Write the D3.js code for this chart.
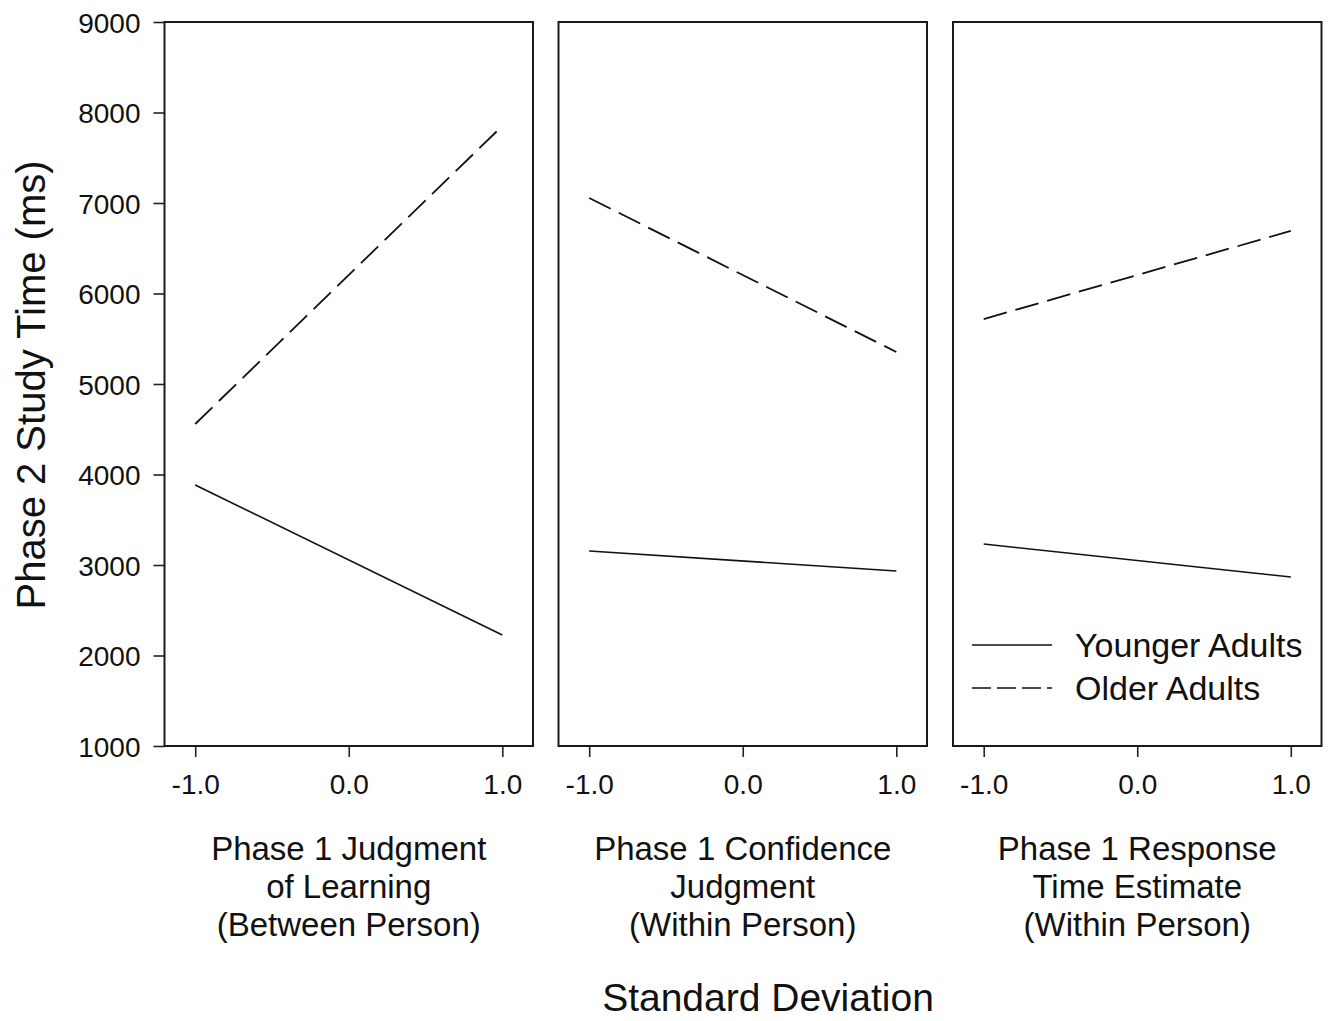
<!DOCTYPE html>
<html>
<head>
<meta charset="utf-8">
<script src="https://cdn.jsdelivr.net/npm/d3@7"></script>
<style>
  body { margin: 0; background: #fff; }
  text { font-family: "Liberation Sans", Arial, sans-serif; fill: #111; }
</style>
</head>
<body>
<div class="graph"></div>
<script>
// data
var xValues = [-1, 1];
var xTicks = [-1, 0, 1];
var yTicks = [1000, 2000, 3000, 4000, 5000, 6000, 7000, 8000, 9000];
var panelLabels = [
  ["Phase 1 Judgment", "of Learning", "(Between Person)"],
  ["Phase 1 Confidence", "Judgment", "(Within Person)"],
  ["Phase 1 Response", "Time Estimate", "(Within Person)"]
];
var younger = [[3884, 2227], [3155, 2934], [3232, 2867]];
var older = [[4558, 7851], [7055, 5354], [5718, 6691]];
var seriesNames = ["Younger Adults", "Older Adults"];

var width = 1331, height = 1021;
var plotTop = 22, plotBottom = 746;
var panelLeft = [164.5, 558.5, 953];
var panelW = 368.5;
var dash = "24,9";

var svg = d3.select(".graph").append("svg")
    .attr("width", width)
    .attr("height", height);

var y = d3.scaleLinear()
    .domain([1000, 9000])
    .range([plotBottom, plotTop]);

var line = d3.line();

// y axis on first panel only
var yAxis = d3.axisLeft(y)
    .tickValues(yTicks)
    .tickSize(11)
    .tickPadding(13)
    .tickFormat(d3.format("d"));

var gy = svg.append("g")
    .attr("transform", "translate(" + panelLeft[0] + ",0)")
    .call(yAxis);
gy.select(".domain").remove();
gy.selectAll(".tick line").attr("stroke", "#222").attr("stroke-width", 1.6);
gy.selectAll(".tick text")
    .attr("font-size", 28)
    .attr("dy", "0.36em")
    .style("font-family", "'Liberation Sans', Arial, sans-serif")
    .style("fill", "#111");

// plain hyphen for negatives, like the original
var fmtX = function(d) { return d3.format(".1f")(d).replace("\u2212", "-"); };

panelLabels.forEach(function(lbl, i) {
  var x = d3.scaleLinear()
      .domain([-1.2, 1.2])
      .range([panelLeft[i], panelLeft[i] + panelW]);

  var xAxis = d3.axisBottom(x)
      .tickValues(xTicks)
      .tickSize(11)
      .tickPadding(17)
      .tickFormat(fmtX);

  var gx = svg.append("g")
      .attr("transform", "translate(0," + plotBottom + ")")
      .call(xAxis);
  gx.select(".domain").remove();
  gx.selectAll(".tick line").attr("stroke", "#222").attr("stroke-width", 1.6);
  gx.selectAll(".tick text")
      .attr("font-size", 28)
      .style("font-family", "'Liberation Sans', Arial, sans-serif")
      .style("fill", "#111");

  // frame
  svg.append("rect")
      .attr("x", panelLeft[i])
      .attr("y", plotTop)
      .attr("width", panelW)
      .attr("height", plotBottom - plotTop)
      .attr("fill", "none")
      .attr("stroke", "#1a1a1a")
      .attr("stroke-width", 2);

  var pts = function(vals) {
    return vals.map(function(v, j) { return [x(xValues[j]), y(v)]; });
  };

  svg.append("path")
      .attr("d", line(pts(younger[i])))
      .attr("fill", "none")
      .attr("stroke", "#111")
      .attr("stroke-width", 1.6);

  svg.append("path")
      .attr("d", line(pts(older[i])))
      .attr("fill", "none")
      .attr("stroke", "#111")
      .attr("stroke-width", 1.8)
      .attr("stroke-dasharray", dash);

  var cx = panelLeft[i] + panelW / 2;
  svg.append("text")
      .attr("text-anchor", "middle")
      .attr("font-size", 33)
      .selectAll("tspan")
      .data(lbl)
    .enter().append("tspan")
      .attr("x", cx)
      .attr("y", function(d, k) { return 860 + k * 38; })
      .text(function(d) { return d; });
});

// axis titles
svg.append("text")
    .attr("x", 768)
    .attr("y", 1011)
    .attr("text-anchor", "middle")
    .attr("font-size", 39)
    .text("Standard Deviation");

svg.append("text")
    .attr("transform", "translate(45,385) rotate(-90)")
    .attr("text-anchor", "middle")
    .attr("font-size", 40)
    .text("Phase 2 Study Time (ms)");

// legend
var legend = svg.selectAll(".legend")
    .data(seriesNames)
  .enter().append("g")
    .attr("class", "legend")
    .attr("transform", function(d, i) { return "translate(972," + (645 + i * 43) + ")"; });

legend.append("line")
    .attr("x1", 0).attr("x2", 80)
    .attr("stroke", "#111")
    .attr("stroke-width", 1.6)
    .attr("stroke-dasharray", function(d, i) { return i ? "19,6" : null; });

legend.append("text")
    .attr("x", 103)
    .attr("dy", "0.36em")
    .attr("font-size", 34)
    .text(function(d) { return d; });
</script>
</body>
</html>
